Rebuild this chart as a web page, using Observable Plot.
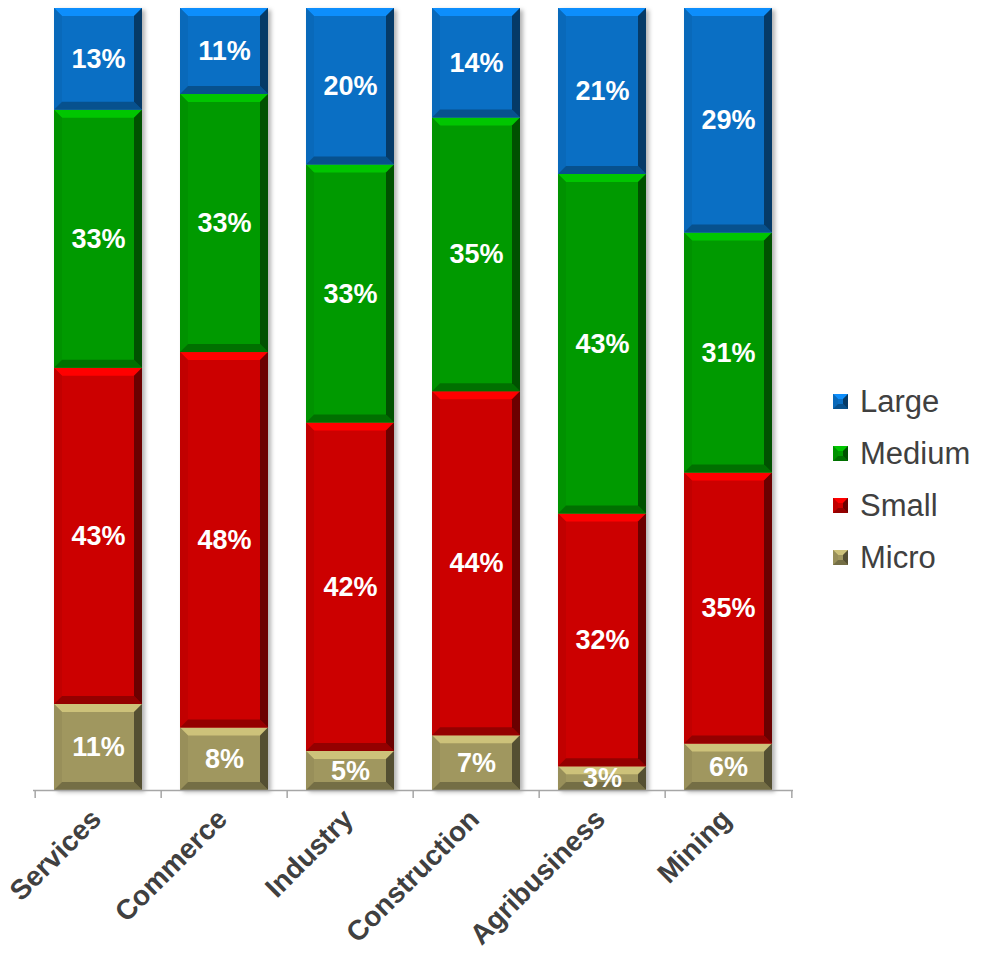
<!DOCTYPE html>
<html>
<head>
<meta charset="utf-8">
<script src="https://cdn.jsdelivr.net/npm/d3@7"></script>
<script src="https://cdn.jsdelivr.net/npm/@observablehq/plot@0.6"></script>
<style>
  html, body { margin: 0; padding: 0; background: #fff; }
  #wrap { position: relative; width: 981px; height: 959px; font-family: "Liberation Sans", Arial, sans-serif; }
  #legend { position: absolute; left: 833px; top: 376px; }
  .li { display: flex; align-items: center; height: 52px; font-size: 31px; color: #404040; }
  .li svg { margin-right: 11px; }
</style>
</head>
<body>
<div id="wrap"><div id="chart"></div><div id="legend"></div></div>
<script>
const categories = ["Services", "Commerce", "Industry", "Construction", "Agribusiness", "Mining"];
const seriesNames = ["Micro", "Small", "Medium", "Large"];
const micro  = [11, 8, 5, 7, 3, 6];
const small  = [43, 48, 42, 44, 32, 35];
const medium = [33, 33, 33, 35, 43, 31];
const large  = [13, 11, 20, 14, 21, 29];
const colors = ["#A0975F", "#CC0000", "#009A00", "#0A6FC4"];
const legendOrder = ["Large", "Medium", "Small", "Micro"];

const seriesValues = {Micro: micro, Small: small, Medium: medium, Large: large};
const data = [];
categories.forEach((c, i) => {
  seriesNames.forEach(s => data.push({category: c, series: s, value: seriesValues[s][i]}));
});

const W = 820, H = 959, mL = 33, mR = 27, mT = 8, mB = 169;
const step = (W - mL - mR) / categories.length;

const stackOpts = {x: "category", y: "value", z: "series", order: seriesNames, offset: "normalize"};

const chart = Plot.plot({
  width: W, height: H,
  marginLeft: mL, marginRight: mR, marginTop: mT, marginBottom: mB,
  style: {fontFamily: "'Liberation Sans', Arial, sans-serif", background: "transparent"},
  x: {domain: categories, paddingInner: 0.3, paddingOuter: 0.15, label: null},
  y: {domain: [0, 1], axis: null},
  color: {domain: seriesNames, range: colors},
  marks: [
    Plot.barY(data, Plot.stackY({...stackOpts, fill: "series", className: "bars"})),
    Plot.text(data, Plot.stackY({...stackOpts, text: d => d.value + "%", fill: "white", fontWeight: "bold", fontSize: 27})),
    Plot.ruleY([0], {stroke: "#a6a6a6", strokeWidth: 1.5}),
    Plot.ruleX(categories, {x: d => d, y1: 0, y2: 0, dx: -step / 2, insetBottom: -8, stroke: "#a6a6a6", strokeWidth: 1.5}),
    Plot.ruleX([categories[categories.length - 1]], {x: d => d, y1: 0, y2: 0, dx: step / 2, insetBottom: -8, stroke: "#a6a6a6", strokeWidth: 1.5}),
    Plot.axisX({tickSize: 0, tickRotate: -45, tickPadding: 24, dx: -2, fontSize: 28, fontWeight: "bold", fill: "#404040", label: null})
  ]
});
document.getElementById("chart").appendChild(chart);

// bevel effect on each rendered bar rect
const ns = "http://www.w3.org/2000/svg";
function bevel(parent, x, y, w, h, fill, b) {
  const c = d3.color(fill);
  const pts = (arr) => arr.map(p => p.join(",")).join(" ");
  const add = (p, col) => {
    const el = document.createElementNS(ns, "polygon");
    el.setAttribute("points", pts(p));
    el.setAttribute("fill", col);
    parent.appendChild(el);
  };
  b = Math.min(b, h / 2, w / 2);
  add([[x, y], [x + w, y], [x + w - b, y + b], [x + b, y + b]], c.brighter(0.7).formatHex());
  add([[x, y], [x + b, y + b], [x + b, y + h - b], [x, y + h]], c.darker(0.15).formatHex());
  add([[x, y + h], [x + b, y + h - b], [x + w - b, y + h - b], [x + w, y + h]], c.darker(0.9).formatHex());
  add([[x + w, y], [x + w, y + h], [x + w - b, y + h - b], [x + w - b, y + b]], c.darker(1.8).formatHex());
}
const barsG = chart.querySelector("g.bars");
barsG.style.filter = "drop-shadow(3px 2px 2px rgba(0,0,0,0.3))";
barsG.querySelectorAll("rect").forEach(r => {
  const x = +r.getAttribute("x"), y = +r.getAttribute("y"), w = +r.getAttribute("width"), h = +r.getAttribute("height");
  const g = document.createElementNS(ns, "g");
  r.parentNode.insertBefore(g, r.nextSibling);
  bevel(g, x, y, w, h, r.getAttribute("fill"), 8);
});

// legend
const legend = document.getElementById("legend");
legendOrder.forEach(s => {
  const fill = colors[seriesNames.indexOf(s)];
  const item = document.createElement("div");
  item.className = "li";
  const sw = document.createElementNS(ns, "svg");
  sw.setAttribute("width", 16); sw.setAttribute("height", 16);
  const rect = document.createElementNS(ns, "rect");
  rect.setAttribute("width", 15); rect.setAttribute("height", 15); rect.setAttribute("fill", fill);
  sw.appendChild(rect);
  bevel(sw, 0, 0, 15, 15, fill, 5);
  item.appendChild(sw);
  const t = document.createElement("span");
  t.textContent = s;
  item.appendChild(t);
  legend.appendChild(item);
});
</script>
</body>
</html>
